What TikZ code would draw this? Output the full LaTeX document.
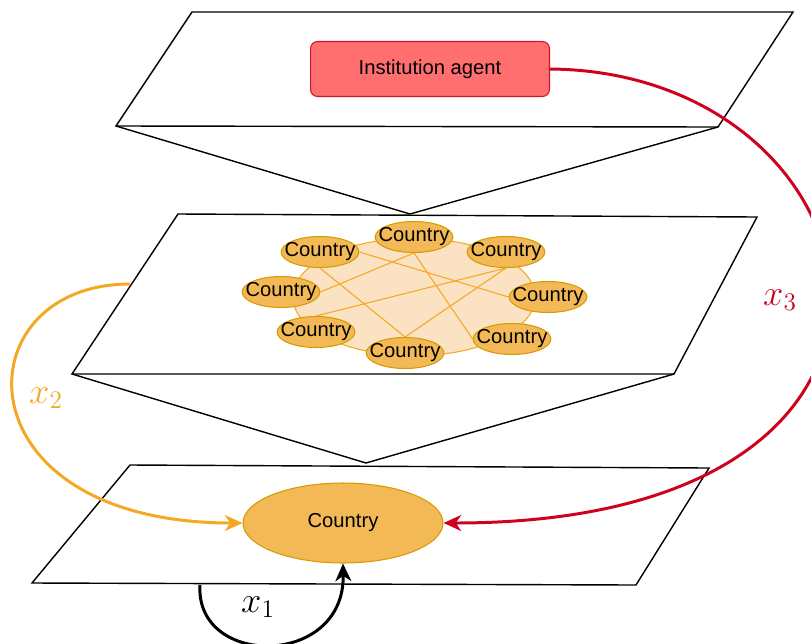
\documentclass[tikz,border=0pt]{standalone}
\usepackage{fontspec}
\setmainfont{Liberation Sans}
\usepackage{tikz}
\usetikzlibrary{arrows.meta,shapes.geometric}

\definecolor{agentfill}{RGB}{255,111,111}
\definecolor{agentline}{RGB}{210,20,40}
\definecolor{countryfill}{RGB}{242,185,86}
\definecolor{countryline}{RGB}{215,155,0}
\definecolor{ringfill}{RGB}{250,226,194}
\definecolor{flowgold}{RGB}{245,168,35}
\definecolor{flowred}{RGB}{206,2,30}

\begin{document}
\begin{tikzpicture}[x=0.02cm, y=-0.02cm,
  >={Stealth[length=10pt, width=9pt, inset=3pt]},
  plane/.style={draw=black, line width=0.8pt},
  agent/.style={draw=agentline, fill=agentfill, rounded corners=4pt, line width=0.6pt,
    minimum width=4.78cm, minimum height=1.1cm, font=\fontsize{11.5}{13}\selectfont},
  country/.style={ellipse, draw=countryline, fill=countryfill, line width=0.6pt,
    inner xsep=-4.5pt, inner ysep=0pt,
    minimum width=1.54cm, minimum height=0.62cm, font=\fontsize{11.5}{13}\selectfont},
  ring/.style={ellipse, draw=flowgold, fill=ringfill, line width=0.6pt,
    minimum width=4.85cm, minimum height=2.35cm},
  link/.style={draw=flowgold, line width=0.6pt},
  flow/.style={->, line width=1.7pt},
  lbl/.style={font=\fontsize{22}{26}\selectfont}]

\useasboundingbox (0,0) rectangle (811,643);

% planes
\draw[plane] (192,12) -- (793,12) -- (718,127) -- (116,126) -- cycle;
\draw[plane] (116,126) -- (410,214) -- (718,127);
\draw[plane] (178,214) -- (757,217) -- (674,374) -- (72,374) -- cycle;
\draw[plane] (72,374) -- (366,463) -- (674,374);
\draw[plane] (130,465) -- (709,468) -- (636,585) -- (32,583) -- cycle;

% top level
\node[agent] (inst) at (430,69) {Institution agent};

% middle level
\node[ring] (ring) at (414,297) {};
\node[country] (ct) at (414,237) {Country};
\node[country] (cul) at (320,252) {Country};
\node[country] (cur) at (506,252) {Country};
\node[country] (cl) at (281,292) {Country};
\node[country] (cr) at (548,297) {Country};
\node[country] (cll) at (316,332) {Country};
\node[country] (cb) at (405,353) {Country};
\node[country] (clr) at (512,339) {Country};

\draw[link] (ct.south) -- (cl.east);
\draw[link] (ct.south) -- (clr.west);
\draw[link] (cul.east) -- (cr.west);
\draw[link] (cul.south) -- (cb.north);
\draw[link] (cur.south) -- (cll.north);
\draw[link] (cur.south) -- (cb.north);

% bottom level
\node[country, inner sep=2pt, minimum width=4cm, minimum height=1.6cm] (main) at (343,523) {Country};

% x1
\coordinate (x1start) at (200,585);
\draw[flow] (x1start) .. controls (195,668) and (345,668) .. (main.south);
\node[lbl] (x1lab) at (258,607) {$x_1$};

% x2
\coordinate (x2start) at (130,284);
\draw[flow, draw=flowgold] (x2start) .. controls (-40,284) and (-44,523) .. (main.west);
\node[lbl, text=flowgold] (x2lab) at (46,398) {$x_2$};

% x3
\draw[flow, draw=flowred] (inst.east) .. controls (890,72) and (991,523) .. (main.east);
\node[lbl, text=flowred] (x3lab) at (780,300) {$x_3$};

\end{tikzpicture}
\end{document}
